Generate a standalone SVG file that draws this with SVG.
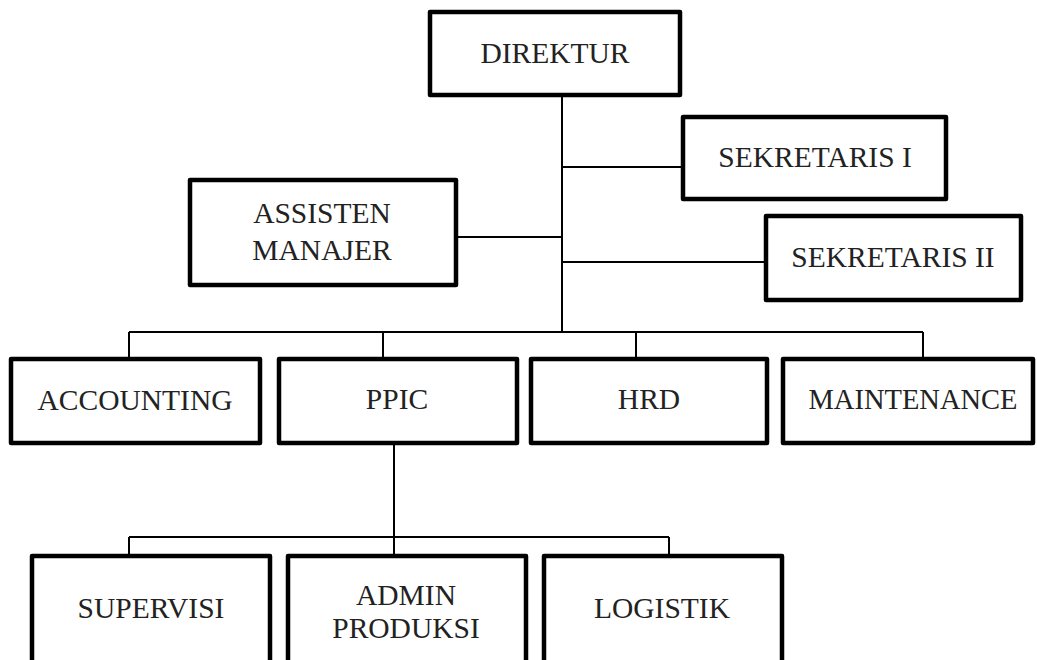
<svg xmlns="http://www.w3.org/2000/svg" width="1037" height="660" viewBox="0 0 1037 660">
<style>
.box{fill:#fff;stroke:#000;stroke-width:4.5;stroke-linejoin:round}
.ln{fill:none;stroke:#000;stroke-width:2}
text{font-family:"Liberation Serif","Times New Roman",serif;font-size:29.5px;fill:#222;text-anchor:middle}
</style>
<rect width="1037" height="660" fill="#fff"/>
<g id="connectors">
<path class="ln" d="M562 95V332M562 167H683M562 262H766M456 237H562M129 332H923M129 332V359M383 332V359M636 332V359M923 332V359M394 443V537M129 537H669M129 537V556M394 537V556M669 537V556"/>
</g>
<g id="direktur"><rect class="box" x="430" y="12" width="250" height="83"/><text x="555" y="63">DIREKTUR</text></g>
<g id="sekretaris1"><rect class="box" x="683" y="117" width="263" height="82"/><text x="815" y="167">SEKRETARIS I</text></g>
<g id="sekretaris2"><rect class="box" x="766" y="216" width="255" height="84"/><text x="893" y="267">SEKRETARIS II</text></g>
<g id="assisten"><rect class="box" x="190" y="180" width="266" height="105"/><text x="322" y="223">ASSISTEN</text><text x="322" y="260">MANAJER</text></g>
<g id="accounting"><rect class="box" x="11" y="359" width="249" height="84"/><text x="135" y="410">ACCOUNTING</text></g>
<g id="ppic"><rect class="box" x="279" y="359" width="238" height="84"/><text x="397" y="409">PPIC</text></g>
<g id="hrd"><rect class="box" x="531" y="359" width="236" height="84"/><text x="649" y="409">HRD</text></g>
<g id="maintenance"><rect class="box" x="783" y="359" width="250" height="84"/><text x="913" y="409" style="font-size:28.5px">MAINTENANCE</text></g>
<g id="supervisi"><rect class="box" x="32" y="556" width="238" height="130"/><text x="151" y="618">SUPERVISI</text></g>
<g id="admin"><rect class="box" x="288" y="556" width="238" height="130"/><text x="406" y="605">ADMIN</text><text x="406" y="638">PRODUKSI</text></g>
<g id="logistik"><rect class="box" x="544" y="556" width="238" height="130"/><text x="662" y="618">LOGISTIK</text></g>
</svg>
